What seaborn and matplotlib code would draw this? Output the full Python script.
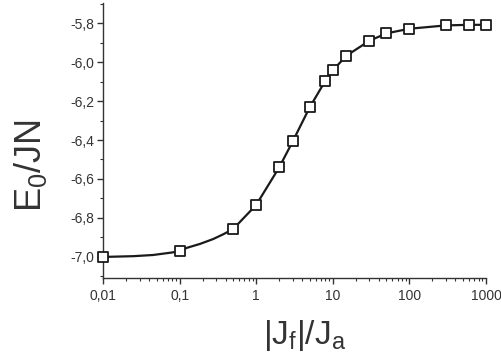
import matplotlib
matplotlib.use("Agg")
import matplotlib.pyplot as plt
import matplotlib.ticker as mticker
import pandas as pd
import seaborn as sns

# ratio |Jf|/Ja and ground state energy E0/JN (markers)
ratio = [0.01, 0.1, 0.5, 1, 2, 3, 5, 8, 10, 15, 30, 50, 100, 300, 600, 1000]
energy = [-7.00, -6.970, -6.857, -6.733, -6.540, -6.407, -6.232, -6.096,
          -6.043, -5.968, -5.891, -5.853, -5.829, -5.812, -5.809, -5.809]

# smooth guide curve
curve_ratio = [0.01, 0.025, 0.045, 0.08, 0.1, 0.125, 0.185, 0.275, 0.37, 0.5,
               1, 2, 3, 5, 8, 10, 15, 30, 50, 100, 300, 600, 1000]
curve_energy = [-7.00, -6.996, -6.990, -6.977, -6.970, -6.953, -6.933, -6.908,
                -6.884, -6.857, -6.733, -6.540, -6.407, -6.232, -6.096, -6.043,
                -5.968, -5.891, -5.853, -5.829, -5.812, -5.809, -5.809]

data = pd.DataFrame({"ratio": ratio, "energy": energy})
curve = pd.DataFrame({"ratio": curve_ratio, "energy": curve_energy})

sns.set_style("ticks")
plt.rcParams["font.family"] = ["Liberation Sans", "DejaVu Sans"]
plt.rcParams["mathtext.fontset"] = "custom"
plt.rcParams["mathtext.rm"] = "Liberation Sans"
plt.rcParams["mathtext.it"] = "Liberation Sans"

fig = plt.figure(figsize=(5.01, 3.57), dpi=100)
ax = fig.add_axes([0.2056, 0.2213, 0.7644, 0.7703])

sns.lineplot(data=curve, x="ratio", y="energy", ax=ax, color="#1a1a1a",
             linewidth=1.6, clip_on=False)
sns.scatterplot(data=data, x="ratio", y="energy", ax=ax, marker="s", s=62,
                facecolor="white", edgecolor="#1a1a1a", linewidth=1.3,
                clip_on=False, zorder=5)

ax.set_xscale("log")
ax.set_xlim(0.01, 1000)
ax.set_ylim(-7.108, -5.697)

ax.xaxis.set_major_locator(mticker.LogLocator(base=10, numticks=10))
ax.xaxis.set_minor_locator(mticker.LogLocator(base=10, subs=range(2, 10), numticks=20))
ax.xaxis.set_minor_formatter(mticker.NullFormatter())


def xfmt(v, pos):
    if v >= 1:
        return f"{v:.0f}"
    return f"{v:g}".replace(".", ",")


ax.xaxis.set_major_formatter(mticker.FuncFormatter(xfmt))
ax.yaxis.set_major_locator(mticker.MultipleLocator(0.2))
ax.yaxis.set_minor_locator(mticker.MultipleLocator(0.1))
ax.yaxis.set_major_formatter(mticker.FuncFormatter(lambda v, p: f"{v:.1f}".replace(".", ",")))

ax.tick_params(axis="both", which="major", length=4, width=1, labelsize=10,
               colors="#333333", labelcolor="#333333", pad=2)
ax.tick_params(axis="x", which="major", pad=4)
ax.tick_params(axis="both", which="minor", length=2.5, width=0.8, colors="#333333")
for s in ["left", "bottom"]:
    ax.spines[s].set_color("#333333")
    ax.spines[s].set_linewidth(1.0)
sns.despine(ax=ax)

ax.set_xlabel(r"$\mathregular{|J_f|/J_a}$", fontsize=24, color="#333333")
ax.set_ylabel(r"$\mathregular{E_0/JN}$", fontsize=26, color="#333333")
ax.xaxis.set_label_coords(0.525, -0.145)
ax.yaxis.set_label_coords(-0.14, 0.41)

fig.savefig("out.png", dpi=100)
